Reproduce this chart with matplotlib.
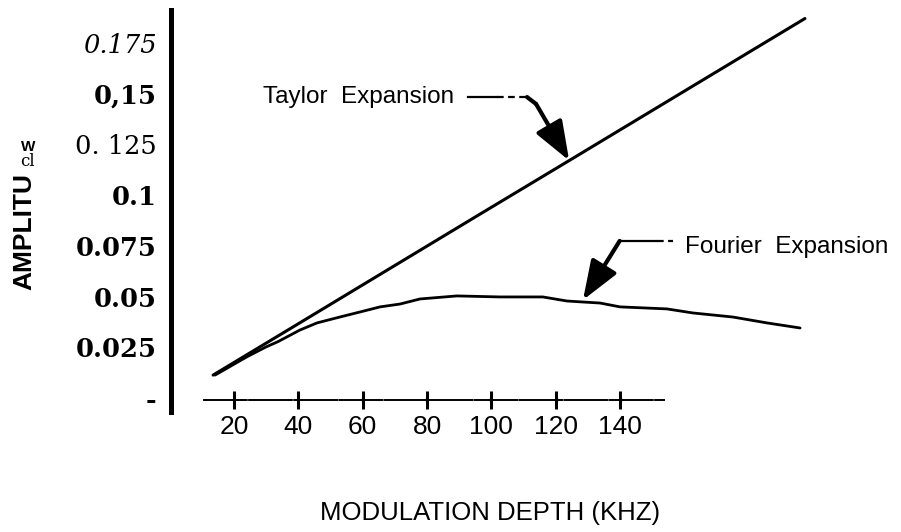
import matplotlib
matplotlib.use("Agg")
import matplotlib.pyplot as plt

# ---- data (x in the units of the printed tick scale) ----
taylor_x = [13.5, 40, 65.4, 95, 124.2, 160, 197.5]
taylor_y = [0.0113, 0.0366, 0.0609, 0.0892, 0.1170, 0.1512, 0.187]

fourier_x = [14.1, 24, 30, 33.7, 40.5, 45.8, 52.9, 59.2, 65.4, 71.6, 77.8,
             89.3, 102.7, 116.0, 123.5, 128.5, 133.8, 140.0, 154.6, 162.7,
             175.1, 185.7, 196.0]
fourier_y = [0.0113, 0.0203, 0.0252, 0.0278, 0.0335, 0.0370, 0.0399, 0.0424,
             0.0449, 0.0463, 0.0488, 0.0503, 0.0498, 0.0498, 0.0478, 0.0473,
             0.0468, 0.0449, 0.0439, 0.0419, 0.0399, 0.0370, 0.0345]

xtick_vals = [20, 40, 60, 80, 100, 120, 140]
xtick_labels = ["20", "40", "60", "80", "100", "120", "140"]
ytick_vals = [0, 0.025, 0.05, 0.075, 0.1, 0.125, 0.15, 0.175]
ytick_labels = ["-", "0.025", "0.05", "0.075", "0.1", "0. 125", "0,15", "0.175"]

xlabel = "MODULATION DEPTH (KHZ)"
taylor_text = "Taylor  Expansion"
fourier_text = "Fourier  Expansion"

sans = ["Liberation Sans", "DejaVu Sans"]

fig = plt.figure(figsize=(9.01, 5.32), dpi=100)
ax = fig.add_axes([171 / 901, (532 - 412) / 532, (830 - 171) / 901, 402 / 532])
ax.set_xlim(0.4, 205.3)
ax.set_ylim(-0.0069, 0.1912)

ax.plot(taylor_x, taylor_y, color="black", lw=2.2, solid_capstyle="round")
ax.plot(fourier_x, fourier_y, color="black", lw=2.0, solid_capstyle="round",
        solid_joinstyle="round")

for s in ["top", "right"]:
    ax.spines[s].set_visible(False)
ax.spines["left"].set_linewidth(3.6)
ax.spines["bottom"].set_position(("data", -0.001))
ax.spines["bottom"].set_bounds(10.6, 153.6)
ax.spines["bottom"].set_linewidth(1.4)
ax.spines["bottom"].set_linestyle((0, (22, 1.2)))

ax.set_xticks(xtick_vals)
ax.set_xticklabels(xtick_labels, family=sans, fontsize=19)
ax.tick_params(axis="x", direction="inout", length=13, width=2.2, pad=4)

ax.set_yticks(ytick_vals)
ax.set_yticklabels(ytick_labels, family="DejaVu Serif", fontsize=18.5,
                   fontweight="bold")
ax.tick_params(axis="y", length=0, pad=10.5)
ylabs = ax.get_yticklabels()
ylabs[-1].set_fontstyle("italic")
ylabs[-1].set_fontweight("normal")
ylabs[5].set_fontweight("normal")

# y axis label (scanned, partly garbled)
fig.text(24 / 901, 1 - 231 / 532, "AMPLITU", rotation=90, family=sans,
         fontweight="bold", fontsize=19, ha="center", va="center")
fig.text(27 / 901, 1 - 162 / 532, "cl", family="DejaVu Serif", fontsize=12,
         ha="center", va="center")
fig.text(28 / 901, 1 - 147 / 532, "W", family=sans, fontweight="bold",
         fontsize=11, ha="center", va="center")

fig.text(490 / 901, 1 - 513 / 532, xlabel, family=sans, fontsize=18.5,
         ha="center", va="center")

# annotations
ax.text(88.4, 0.1454, taylor_text, family=sans, fontsize=17.5, ha="right",
        va="baseline")
ax.plot([92.7, 101.8], [0.1483, 0.1483], color="black", lw=1.6)
ax.plot([101.8, 111.1], [0.1483, 0.1483], color="black", lw=1.6,
        ls=(0, (3, 2)))
ax.plot([111.1, 113.9], [0.1483, 0.1449], color="black", lw=3,
        solid_capstyle="round")
ax.annotate("", xy=(124.2, 0.1170), xytext=(113.9, 0.1449),
            arrowprops=dict(arrowstyle="-|>,head_length=24,head_width=9",
                            mutation_scale=1, lw=3, color="black",
                            shrinkA=0, shrinkB=0))

ax.text(160.2, 0.0715, fourier_text, family=sans, fontsize=17.5, ha="left",
        va="baseline")
ax.plot([139.9, 151.5], [0.0774, 0.0774], color="black", lw=1.6,
        solid_capstyle="round")
ax.plot([151.5, 156.5], [0.0774, 0.0774], color="black", lw=1.6,
        ls=(0, (3, 2)))
ax.annotate("", xy=(128.5, 0.0483), xytext=(139.9, 0.0774),
            arrowprops=dict(arrowstyle="-|>,head_length=24,head_width=9",
                            mutation_scale=1, lw=3, color="black",
                            shrinkA=0, shrinkB=0))

fig.savefig("out.png", dpi=100)
